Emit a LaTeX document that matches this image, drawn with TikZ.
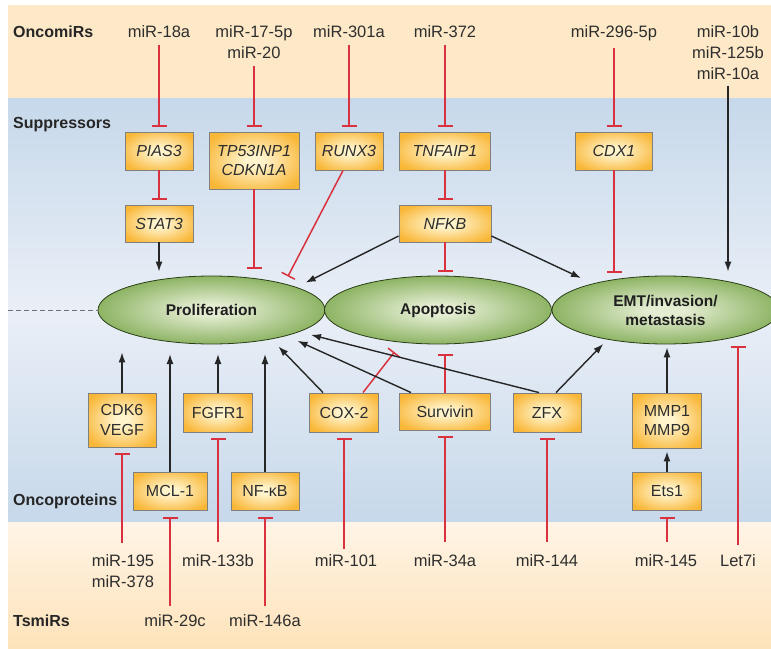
\documentclass[tikz,border=0pt]{standalone}
\usepackage{fontspec}
\setmainfont{Liberation Sans}
\usetikzlibrary{arrows.meta,shapes.geometric,calc}

\definecolor{topband}{HTML}{FDE9C7}
\definecolor{blueedge}{HTML}{C6D8EA}
\definecolor{bluemid}{HTML}{EAEFF7}
\definecolor{lowtop}{HTML}{FFF4E6}
\definecolor{lowbot}{HTML}{FDE3BA}
\definecolor{boxin}{HTML}{FFF4CC}
\definecolor{boxout}{HTML}{F9B738}
\definecolor{ovin}{HTML}{E4EDD2}
\definecolor{ovout}{HTML}{6C9E3A}
\definecolor{inhred}{HTML}{D9323E}
\definecolor{txt}{HTML}{2E2E2E}

\pgfdeclareradialshading{boxglow}{\pgfpoint{0bp}{0bp}}{color(0bp)=(boxin); color(5bp)=(boxin); color(30bp)=(boxout); color(50bp)=(boxout)}
\pgfdeclareradialshading{ovalglow}{\pgfpoint{0bp}{0bp}}{color(0bp)=(ovin); color(4bp)=(ovin); color(33bp)=(ovout); color(50bp)=(ovout)}

\tikzset{
  gene/.style={draw=black!50, line width=0.9pt, shade, shading=boxglow, minimum height=38pt, inner sep=0pt, text=txt, align=center, font=\fontsize{16}{19.5}\selectfont},
  process/.style={ellipse, draw=black!60!ovout, line width=0.8pt, shade, shading=ovalglow, minimum width=227pt, minimum height=68pt, inner sep=0pt, text=black!88, align=center, font=\bfseries\fontsize{15.5}{19}\selectfont},
  mirna/.style={anchor=north, inner sep=4pt, text=txt, align=center, font=\fontsize{16.5}{21}\selectfont},
  tier/.style={anchor=west, inner sep=0pt, text height=11pt, text depth=0pt, text=black!85, font=\bfseries\fontsize{16}{19}\selectfont},
  act/.style={-{Latex[length=10pt,width=7pt]}, line width=1.4pt, draw=black!85},
  inh/.style={-{Bar[width=15pt]}, line width=1.5pt, draw=inhred},
}

\begin{document}
\begin{tikzpicture}[x=1pt,y=-1pt]
		%%%%% START %%%%%
		\useasboundingbox (0,0) rectangle (771,648);
		\fill[white] (0,0) rectangle (771,648);
		\fill[topband] (8,5) rectangle (771,98);
		\shade[top color=blueedge, bottom color=blueedge, middle color=bluemid] (8,98) rectangle (771,522);
		\shade[top color=lowtop, bottom color=lowbot] (8,522) rectangle (771,648);
		
		\node[tier] (oncomirs) at (13,32) {OncomiRs};
		\node[tier] (suppr) at (13,123) {Suppressors};
		\node[tier] (oncoprot) at (13,500) {Oncoproteins};
		\node[tier] (tsmirs) at (13,621) {TsmiRs};
		
		% processes
		\node[process] (prolif) at (211.5,310) {Proliferation};
		\node[process] (apop) at (438,310) {Apoptosis};
		\node[process] (emt) at (665.5,310) {EMT/invasion/\\metastasis};
		\draw[black!55, line width=0.8pt, dash pattern=on 5pt off 3pt] (8,310) -- (prolif.west);
		
		% suppressors
		\node[gene, minimum width=68pt] (pias3) at (159,151) {\textit{PIAS3}};
		\node[gene, minimum width=90pt, minimum height=57pt] (tp53) at (254,160.5) {\textit{TP53INP1}\\\textit{CDKN1A}};
		\node[gene, minimum width=68pt] (runx3) at (349,151) {\textit{RUNX3}};
		\node[gene, minimum width=68pt, minimum height=37pt] (stat3) at (159,223.5) {\textit{STAT3}};
		\node[gene, minimum width=91pt] (tnfaip1) at (445,151) {\textit{TNFAIP1}};
		\node[gene, minimum width=92pt, minimum height=37pt] (nfkb) at (445,223.5) {\textit{NFKB}};
		\node[gene, minimum width=77pt] (cdx1) at (614,151) {\textit{CDX1}};
		
		% oncoproteins
		\node[gene, minimum width=68pt, minimum height=54pt] (cdk6) at (122,420) {CDK6\\VEGF};
		\node[gene, minimum width=69pt, minimum height=39pt] (fgfr1) at (218,412.5) {FGFR1};
		\node[gene, minimum width=69pt, minimum height=39pt] (cox2) at (344,412.5) {COX-2};
		\node[gene, minimum width=91pt, minimum height=37pt] (survivin) at (445,411.5) {Survivin};
		\node[gene, minimum width=68pt, minimum height=39pt] (zfx) at (547,412.5) {ZFX};
		\node[gene, minimum width=69pt, minimum height=55pt] (mmp) at (667,420.5) {MMP1\\MMP9};
		\node[gene, minimum width=74pt] (mcl1) at (170,491) {MCL-1};
		\node[gene, minimum width=68pt] (nfkbp) at (265,491) {NF-κB};
		\node[gene, minimum width=69pt] (ets1) at (667,491) {Ets1};
		
		% miRNAs
		\node[mirna] (m18a) at (159,21) {miR-18a};
		\node[mirna] (m17) at (254,21) {miR-17-5p\\miR-20};
		\node[mirna] (m301a) at (349,21) {miR-301a};
		\node[mirna] (m372) at (445,21) {miR-372};
		\node[mirna] (m296) at (614,21) {miR-296-5p};
		\node[mirna] (m10) at (728,21) {miR-10b\\miR-125b\\miR-10a};
		
		\node[mirna] (m195) at (123,550) {miR-195\\miR-378};
		\node[mirna] (m133b) at (218,550) {miR-133b};
		\node[mirna] (m101) at (346,550) {miR-101};
		\node[mirna] (m34a) at (445,550) {miR-34a};
		\node[mirna] (m144) at (547,550) {miR-144};
		\node[mirna] (m145) at (666,550) {miR-145};
		\node[mirna] (let7i) at (738,550) {Let7i};
		\node[mirna] (m29c) at (175,610) {miR-29c};
		\node[mirna] (m146a) at (265,610) {miR-146a};
		
		\coordinate (prow) at (0,354);
		
		% upper half
		\draw[inh, shorten <=3pt, shorten >=5pt] (m18a.south) -- (pias3.north);
		\draw[inh, shorten <=3pt, shorten >=5pt] (m17.south) -- (tp53.north);
		\draw[inh, shorten <=3pt, shorten >=5pt] (m301a.south) -- (runx3.north);
		\draw[inh, shorten <=3pt, shorten >=5pt] (m372.south) -- (tnfaip1.north);
		\draw[inh, shorten <=3pt, shorten >=5pt] (m296.south) -- (cdx1.north);
		\draw[act, shorten <=2pt, shorten >=4pt] (m10.south) -- (m10.south |- emt.north);
		
		\draw[inh, shorten >=5pt] (pias3.south) -- (stat3.north);
		\draw[inh, shorten >=5pt] (tnfaip1.south) -- (nfkb.north);
		\draw[act, shorten >=4pt] (stat3.south) -- (stat3.south |- prolif.north);
		\draw[inh, shorten >=7pt] (tp53.south) -- (tp53.south |- prolif.north);
		\draw[inh, shorten >=8pt] ([xshift=-6pt]runx3.south) -- (prolif.20);
		\draw[act, shorten >=10pt] ([yshift=-12.5pt]nfkb.west) -- (prolif.15);
		\draw[inh, shorten >=4pt] (nfkb.south) -- (nfkb.south |- apop.north);
		\draw[act, shorten >=13pt] ([yshift=-12.5pt]nfkb.east) -- (emt.160);
		\draw[inh, shorten >=3pt] (cdx1.south) -- (cdx1.south |- emt.north);
		
		% lower half
		\draw[act, shorten >=8pt] (cdk6.north) -- (cdk6.north |- prolif.south);
		\draw[act] (mcl1.north) -- (mcl1.north |- prow);
		\draw[act] (fgfr1.north) -- (fgfr1.north |- prow);
		\draw[act] (nfkbp.north) -- (nfkbp.north |- prow);
		\draw[act, shorten >=10pt] ([xshift=-21pt]cox2.north) -- (prolif.-26);
		\draw[inh, shorten >=12pt] ([xshift=19pt]cox2.north) -- (apop.222);
		\draw[act, shorten >=12pt] ([xshift=-34pt]survivin.north) -- (prolif.-19.5);
		\draw[inh] (survivin.north) -- (survivin.north |- prow);
		\draw[act, shorten >=12pt] ([xshift=-8pt]zfx.north) -- (prolif.-14);
		\draw[act, shorten >=6pt] ([xshift=9pt]zfx.north) -- (emt.-153);
		\draw[act, shorten >=3pt] (mmp.north) -- (mmp.north |- emt.south);
		\draw[act, shorten >=3pt] (ets1.north) -- (mmp.south);
		\draw[inh, shorten <=5pt, shorten >=2pt] (let7i.north) -- (let7i.north |- emt.south);
		
		\draw[inh, shorten <=7pt, shorten >=6pt] (m195.north -| cdk6) -- (cdk6.south);
		\draw[inh, shorten <=8pt, shorten >=6pt] (m133b.north) -- (fgfr1.south);
		\draw[inh, shorten <=4pt, shorten >=7pt] (m29c.north -| mcl1) -- (mcl1.south);
		\draw[inh, shorten <=4pt, shorten >=7pt] (m146a.north) -- (nfkbp.south);
		\draw[inh, shorten <=1pt, shorten >=6pt] (m101.north -| cox2) -- (cox2.south);
		\draw[inh, shorten <=8pt, shorten >=6pt] (m34a.north) -- (survivin.south);
		\draw[inh, shorten <=8pt, shorten >=6pt] (m144.north) -- (zfx.south);
		\draw[inh, shorten <=8pt, shorten >=7pt] (m145.north -| ets1) -- (ets1.south);
		
		%%%%% END %%%%%
\end{tikzpicture}
\end{document}
